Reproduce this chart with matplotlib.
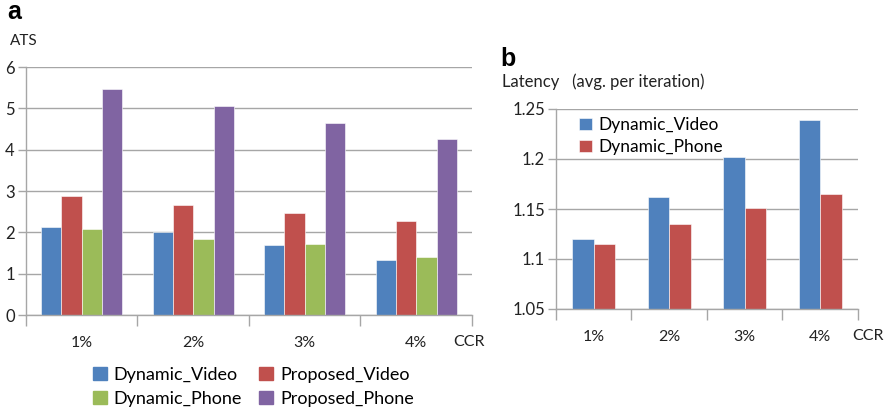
import matplotlib.pyplot as plt
from matplotlib.patches import Patch
import numpy as np

plt.rcParams['font.family'] = ['Lato', 'DejaVu Sans']

ccr = ['1%', '2%', '3%', '4%']

# panel a: ATS
dynamic_video = [2.13, 2.00, 1.69, 1.33]
proposed_video = [2.87, 2.67, 2.46, 2.27]
dynamic_phone = [2.07, 1.83, 1.71, 1.40]
proposed_phone = [5.47, 5.06, 4.64, 4.27]

# panel b: latency
lat_dynamic_video = [1.120, 1.162, 1.202, 1.239]
lat_dynamic_phone = [1.115, 1.135, 1.151, 1.165]

blue = '#4F81BD'
red = '#C0504D'
green = '#9BBB59'
purple = '#8064A2'
grid_col = '#A6A6A6'

W, H = 887, 411
fig = plt.figure(figsize=(W / 100, H / 100), dpi=100)


def px_axes(left, top, right, bottom):
    return fig.add_axes([left / W, 1 - bottom / H, (right - left) / W, (bottom - top) / H])


def style_axis(ax):
    ax.set_xlim(-0.5, 3.5)
    ax.spines['top'].set_visible(False)
    ax.spines['right'].set_visible(False)
    for s in ['left', 'bottom']:
        ax.spines[s].set_color(grid_col)
        ax.spines[s].set_linewidth(1.0)
    ax.yaxis.grid(True, color=grid_col, linewidth=1.0)
    ax.set_axisbelow(True)
    ax.set_xticks(range(4))
    ax.set_xticklabels(ccr, fontsize=11.5, color='#222222')
    ax.set_xticks(np.arange(-0.5, 4, 1), minor=True)
    ax.tick_params(axis='x', which='major', length=0, pad=15)
    ax.tick_params(axis='x', which='minor', length=8, color=grid_col, width=1.0)
    ax.tick_params(axis='y', length=6, color=grid_col, width=1.0, labelsize=12,
                   labelcolor='#222222', pad=2)


# ---- panel a ----
ax1 = px_axes(26, 67, 472, 315)
x = np.arange(4)
w = 0.182
series = [(dynamic_video, blue, 'Dynamic_Video'),
          (proposed_video, red, 'Proposed_Video'),
          (dynamic_phone, green, 'Dynamic_Phone'),
          (proposed_phone, purple, 'Proposed_Phone')]
for i, (vals, col, lab) in enumerate(series):
    ax1.bar(x + (i - 1.5) * w, vals, width=w, color=col, edgecolor='white',
            linewidth=0.4, label=lab)
ax1.set_ylim(0, 6)
ax1.set_yticks(range(7))
style_axis(ax1)

fig.text(7 / W, 1 - 19 / H, 'a', fontsize=18, fontweight='bold',
         family='Liberation Sans', va='baseline')
fig.text(10 / W, 1 - 41 / H, 'ATS', fontsize=11, va='center', color='#222222')
fig.text(453 / W, 1 - 342 / H, 'CCR', fontsize=11.5, va='center', color='#222222')

handles = [Patch(color=c, label=l) for _, c, l in series]
order = [handles[0], handles[2], handles[1], handles[3]]
fig.legend(handles=order, ncol=2, loc='upper left', bbox_to_anchor=(93 / W, 1 - 367 / H),
           frameon=False, fontsize=13, handlelength=0.75, handleheight=0.75,
           handletextpad=0.4, columnspacing=0.95, labelspacing=0.45,
           borderaxespad=0, borderpad=0)

# ---- panel b ----
ax2 = px_axes(556, 109, 858, 309)
wb = 0.285
ax2.bar(x - wb / 2, lat_dynamic_video, width=wb, color=blue, edgecolor='white',
        linewidth=0.4, label='Dynamic_Video')
ax2.bar(x + wb / 2, lat_dynamic_phone, width=wb, color=red, edgecolor='white',
        linewidth=0.4, label='Dynamic_Phone')
ax2.set_ylim(1.05, 1.25)
ax2.set_yticks([1.05, 1.1, 1.15, 1.2, 1.25])
ax2.set_yticklabels(['1.05', '1.1', '1.15', '1.2', '1.25'])
style_axis(ax2)
ax2.legend(loc='upper left', bbox_to_anchor=(0.075, 0.96), frameon=False, fontsize=12.5,
           handlelength=0.75, handleheight=0.75, handletextpad=0.4, labelspacing=0.35,
           borderaxespad=0, borderpad=0)

fig.text(500 / W, 1 - 66 / H, 'b', fontsize=18, fontweight='bold',
         family='Liberation Sans', va='baseline')
fig.text(502 / W, 1 - 82 / H, 'Latency   (avg. per iteration)', fontsize=12,
         va='center', color='#222222')
fig.text(852 / W, 1 - 336 / H, 'CCR', fontsize=11.5, va='center', color='#222222')

fig.savefig('out.png', dpi=100)
